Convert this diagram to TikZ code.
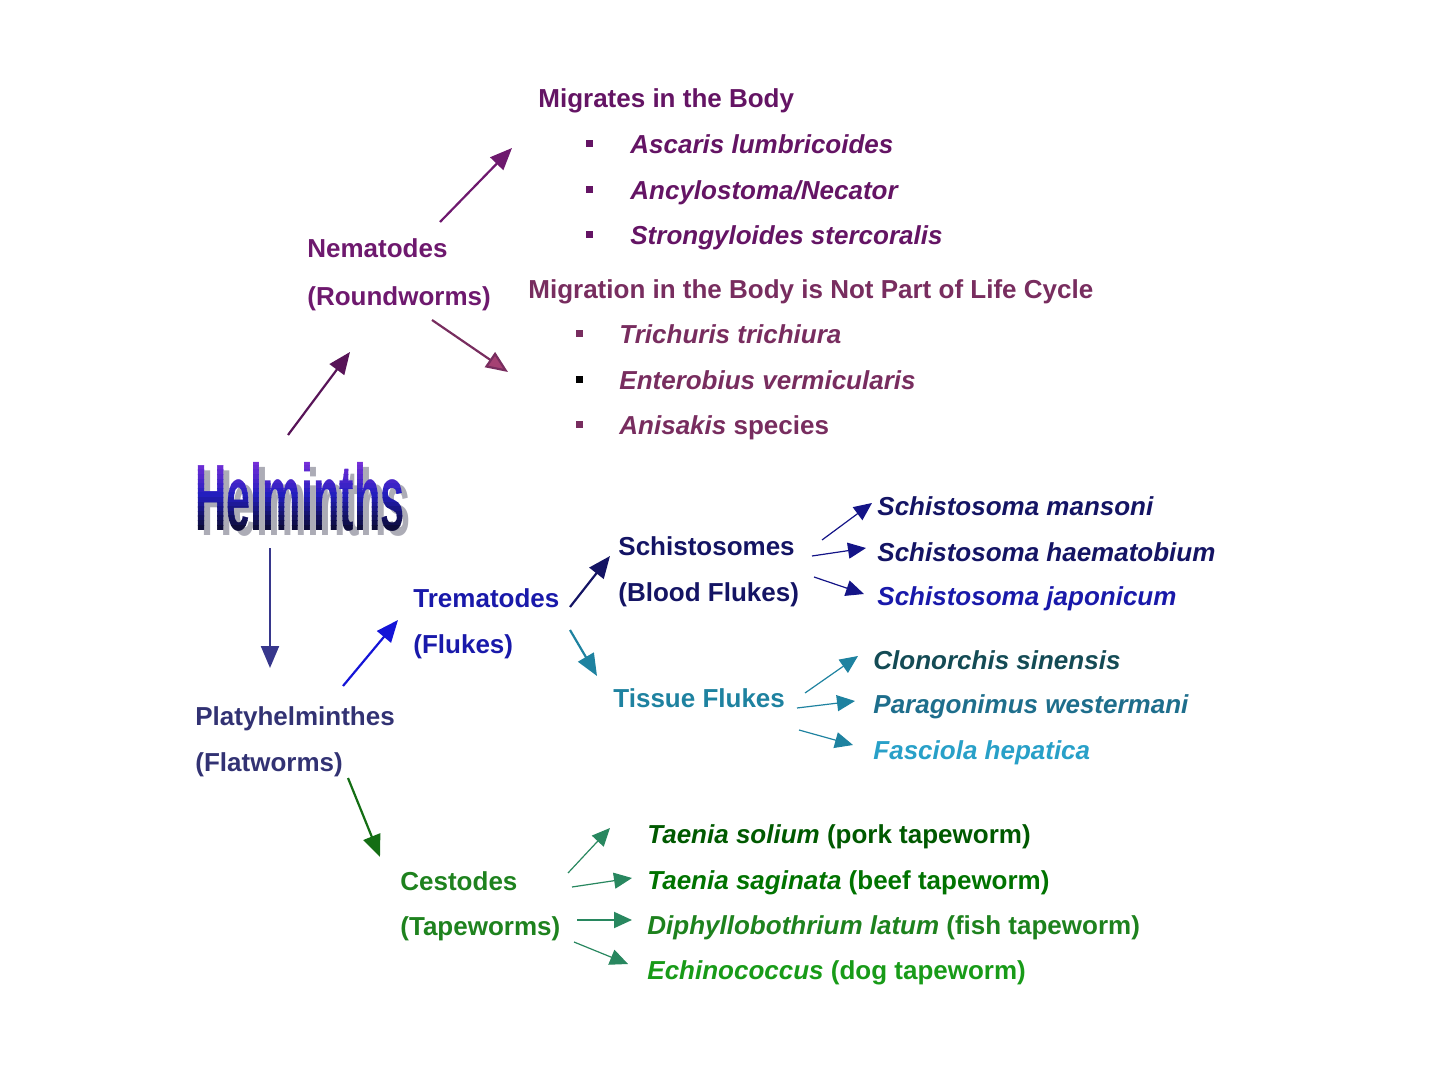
\documentclass[tikz,border=0pt]{standalone}
\usepackage{fontspec}
\setmainfont{Liberation Sans}
\usepackage{graphicx}
\usetikzlibrary{arrows.meta}

\definecolor{helmtop}{RGB}{130,50,220}
\definecolor{helmmid}{RGB}{35,30,190}
\definecolor{helmbot}{RGB}{10,10,40}
\definecolor{helmgray}{RGB}{172,172,182}
\definecolor{nemacol}{RGB}{110,25,110}
\definecolor{migcol}{RGB}{100,20,100}
\definecolor{notcol}{RGB}{120,45,95}
\definecolor{nothead}{RGB}{165,65,115}
\definecolor{platcol}{RGB}{50,50,115}
\definecolor{platarr}{RGB}{55,55,140}
\definecolor{tremcol}{RGB}{25,25,170}
\definecolor{tremarr}{RGB}{20,20,215}
\definecolor{schcol}{RGB}{20,20,100}
\definecolor{scharr}{RGB}{20,20,135}
\definecolor{tiscol}{RGB}{30,130,160}
\definecolor{clocol}{RGB}{20,75,85}
\definecolor{paracol}{RGB}{30,110,140}
\definecolor{fascol}{RGB}{40,160,200}
\definecolor{cestcol}{RGB}{30,130,30}
\definecolor{cestarr}{RGB}{20,110,20}
\definecolor{tapearr}{RGB}{40,135,95}

\tikzset{
  lbl/.style={anchor=base west, inner sep=0pt, font=\fontsize{13}{15}\selectfont\bfseries},
  bul/.style={minimum size=3.5pt, inner sep=0pt},
  arr/.style={-{Triangle[length=11pt,width=9pt]}, line width=1.1pt},
  sarr/.style={-{Triangle[length=9pt,width=8pt]}, line width=0.6pt},
  helmtxt/.style={anchor=base, inner sep=0pt, font=\fontsize{47}{47}\selectfont\bfseries}
}

\begin{document}
\begin{tikzpicture}[x=0.5pt, y=-0.5pt]
  \useasboundingbox (0,0) rectangle (1440,1080);
  % Helminths - Schatten und Farbverlauf in Streifen
  \node[helmtxt, text=helmgray] (helmshadow) at (306,535) {\scalebox{0.46}[1]{Helminths}};
  \foreach \i in {0,...,15}{
    \pgfmathtruncatemacro\p{\i<8 ? 100-\i*12.5 : 100-(\i-8)*12.5}
    \ifnum\i<8 \colorlet{bandcol}{helmtop!\p!helmmid}\else\colorlet{bandcol}{helmmid!\p!helmbot}\fi
    \begin{scope}
      \clip (150,{456+\i*4.6}) rectangle (460,{461+\i*4.6+(\i==15)*20});
      \node[helmtxt, text=bandcol] (helm\i) at (300,530) {\scalebox{0.46}[1]{Helminths}};
    \end{scope}
  }
  \coordinate (helm) at (300,496);

  % Nematoden
  \node[lbl, text=nemacol] (nema) at (307,258) {Nematodes};
  \node[lbl, text=nemacol] (round) at (307,306) {(Roundworms)};
  \node[lbl, text=migcol] (mig) at (538,108) {Migrates in the Body};
  \foreach \n/\t/\y in {1/Ascaris lumbricoides/154, 2/Ancylostoma\slash Necator/200, 3/Strongyloides stercoralis/245}{
    \node[bul, fill=migcol] (migb\n) at (589,\y-10) {};
    \node[lbl, text=migcol] (mig\n) at (630,\y) {\itshape\t};
  }
  \node[lbl, text=notcol] (notmig) at (528,299) {Migration in the Body is Not Part of Life Cycle};
  \foreach \n/\t/\c/\b/\y in {1/{\itshape Trichuris trichiura}/notcol/notcol/344,
                              2/{\itshape Enterobius vermicularis}/notcol/black/390,
                              3/{\itshape Anisakis} species/notcol/notcol/435}{
    \node[bul, fill=\b] (notb\n) at (579,\y-10) {};
    \node[lbl, text=\c] (not\n) at (619,\y) {\t};
  }
  \draw[arr, color=nemacol!80!black] ([shift={(-12,-61)}]helm) -- ([shift={(43,46)}]round.base west);
  \draw[arr, color=nemacol] ([shift={(133,-36)}]nema.base west) -- ([shift={(-26,40)}]mig.base west);
  \draw[arr, color=notcol, -{Triangle[length=11pt,width=9pt,fill=nothead]}] ([shift={(125,14)}]round.base west) -- ([shift={(-111,28)}]not1.base west);

  % Plattwuermer
  \node[lbl, text=platcol] (platy) at (195,725) {Platyhelminthes};
  \node[lbl, text=platcol] (flat) at (195,771) {(Flatworms)};
  \draw[arr, color=platarr] ([shift={(-30,52)}]helm) -- ([shift={(75,-57)}]platy.base west);

  % Trematoden
  \node[lbl, text=tremcol] (trem) at (413,607) {Trematodes};
  \node[lbl, text=tremcol] (flukes) at (413,653) {(Flukes)};
  \draw[arr, color=tremarr] ([shift={(148,-39)}]platy.base west) -- ([shift={(-15,-33)}]flukes.base west);

  \node[lbl, text=schcol] (schisto) at (618,555) {Schistosomes};
  \node[lbl, text=schcol] (blood) at (618,601) {(Blood Flukes)};
  \draw[arr, color=schcol] ([shift={(157,0)}]trem.base west) -- ([shift={(-8,1)}]schisto.base west);
  \foreach \n/\t/\c/\y in {1/mansoni/schcol/515, 2/haematobium/schcol/561, 3/japonicum/tremcol/605}{
    \node[lbl, text=\c] (sch\n) at (877,\y) {\itshape Schistosoma \t};
  }
  \foreach \n/\sx/\sy/\ex/\ey in {1/204/-15/-5/-12, 2/194/1/-11/-13, 3/196/22/-13/-11}{
    \draw[sarr, color=scharr] ([shift={(\sx,\sy)}]schisto.base west) -- ([shift={(\ex,\ey)}]sch\n.base west);
  }

  \node[lbl, text=tiscol] (tissue) at (613,707) {Tissue Flukes};
  \draw[arr, color=tiscol] ([shift={(157,23)}]trem.base west) -- ([shift={(-16,-31)}]tissue.base west);
  \foreach \n/\t/\c/\y in {1/Clonorchis sinensis/clocol/669, 2/Paragonimus westermani/paracol/713, 3/Fasciola hepatica/fascol/759}{
    \node[lbl, text=\c] (tis\n) at (873,\y) {\itshape\t};
  }
  \foreach \n/\sx/\sy/\ex/\ey in {1/192/-14/-15/-13, 2/184/1/-18/-12, 3/186/23/-20/-14}{
    \draw[sarr, color=tiscol] ([shift={(\sx,\sy)}]tissue.base west) -- ([shift={(\ex,\ey)}]tis\n.base west);
  }

  % Cestoden
  \node[lbl, text=cestcol] (cest) at (400,890) {Cestodes};
  \node[lbl, text=cestcol] (tape) at (400,935) {(Tapeworms)};
  \draw[arr, color=cestarr] ([shift={(153,7)}]flat.base west) -- ([shift={(-20,-33)}]cest.base west);
  \node[lbl, text=green!35!black] (tae1) at (647,843) {{\itshape Taenia solium} (pork tapeworm)};
  \node[lbl, text=green!45!black] (tae2) at (647,889) {{\itshape Taenia saginata} (beef tapeworm)};
  \node[lbl, text=cestcol] (tae3) at (647,934) {{\itshape Diphyllobothrium latum} (fish tapeworm)};
  \node[lbl, text=cestcol!80!green] (tae4) at (647,979) {{\itshape Echinococcus} (dog tapeworm)};
  \draw[sarr, color=tapearr] ([shift={(168,-17)}]cest.base west) -- ([shift={(-37,-15)}]tae1.base west);
  \draw[sarr, color=tapearr] ([shift={(172,-3)}]cest.base west) -- ([shift={(-15,-11)}]tae2.base west);
  \draw[sarr, color=tapearr, line width=1pt] ([shift={(177,-15)}]tape.base west) -- ([shift={(-15,-14)}]tae3.base west);
  \draw[sarr, color=tapearr] ([shift={(174,7)}]tape.base west) -- ([shift={(-19,-15)}]tae4.base west);
\end{tikzpicture}
\end{document}
